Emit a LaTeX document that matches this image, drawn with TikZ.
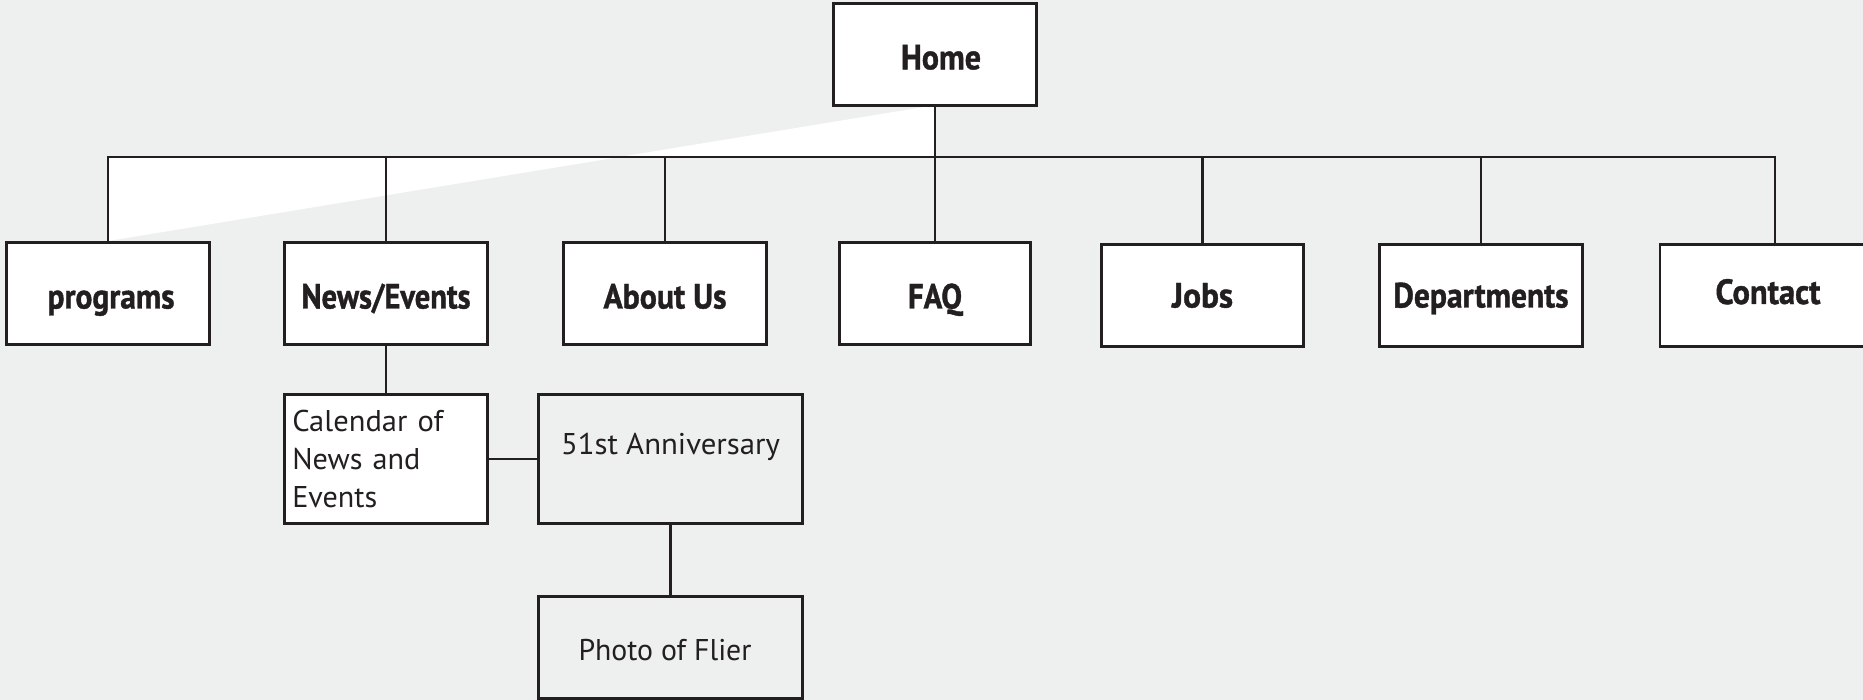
\documentclass[tikz,border=0pt]{standalone}
\usepackage{fontspec}
\setmainfont{PT Sans}
\newfontfamily\heavyfont{PT Sans}[BoldFeatures={FakeBold=1.2}]
\definecolor{bgc}{RGB}{238,240,239}
\definecolor{ink}{RGB}{35,31,32}
\newcommand\fitw[2]{\resizebox{#1}{\height}{#2}}
\tikzset{
  conn/.style={draw=ink, line width=2.7pt},
  menubox/.style={draw=ink, line width=2.7pt, fill=white, inner sep=0pt,
    minimum width=203.4pt, minimum height=102.4pt, text=ink,
    font=\heavyfont\bfseries\fontsize{35}{40}\selectfont, text height=#1, text depth=0pt},
  menubox/.default=30pt,
  subbox/.style={draw=ink, line width=2.7pt, inner sep=0pt, text=ink,
    font=\fontsize{30}{38}\selectfont}
}
\begin{document}
\begin{tikzpicture}[x=1pt,y=-1pt]
\useasboundingbox (0,0) rectangle (1863,700);
\clip (0,0) rectangle (1863,700);
\fill[bgc] (0,0) rectangle (1863,700);
% white wedge
\fill[white] (930,106) -- (935,106) -- (935,157) -- (108,157) -- (108,241) -- cycle;

% nodes
\node[menubox=29.6pt] (home) at (935,54.5) {\hspace*{12pt}\fitw{80pt}{Home}};
\node[menubox] (prog) at (108,293.5) {\hspace*{6pt}\fitw{127pt}{programs}};
\node[menubox] (news) at (386,293.5) {\fitw{169pt}{News/Events}};
\node[menubox] (about) at (665,293.5) {\fitw{123pt}{About Us}};
\node[menubox, minimum width=191.4pt] (faq) at (935,293.5) {\fitw{54pt}{FAQ}};
\node[menubox=24pt, minimum width=202pt] (jobs) at (1202.5,295.5) {\fitw{61pt}{Jobs}};
\node[menubox=24pt] (dept) at (1481,295.5) {\fitw{175pt}{Departments}};
\node[menubox=17pt, minimum width=206pt] (contact) at (1763,295.5) {\hspace*{10pt}\fitw{105pt}{Contact}};

\node[subbox, fill=white, minimum width=203.4pt, minimum height=129.4pt,
  text width=187.4pt, inner xsep=8pt, align=left] (cal) at (386,459)
  {\fitw{151pt}{Calendar of}\\\fitw{128pt}{News and}\\\fitw{85pt}{Events}};
\node[subbox, minimum width=263.7pt, minimum height=129.4pt,
  text height=22pt, text depth=32pt] (anniv) at (670.5,459) {\fitw{219pt}{51st Anniversary}};
\node[subbox, minimum width=263.7pt, minimum height=101.6pt,
  text height=25pt, text depth=0pt] (photo) at (670.5,647.5) {\fitw{173pt}{Photo of Flier}\hspace*{11pt}};

% connectors
\coordinate (bus) at (935,157);
\draw[conn] (home) -- (bus);
\draw[conn] (prog) |- (bus);
\draw[conn] (bus) -| ([xshift=12pt]contact.north);
\draw[conn] (bus -| news) -- (news);
\draw[conn] (bus -| about) -- (about);
\draw[conn] (bus -| faq) -- (faq);
\draw[conn] (bus -| jobs) -- (jobs);
\draw[conn] (bus -| dept) -- (dept);
\draw[conn] (news) -- (cal);
\draw[conn] (cal) -- (anniv);
\draw[conn] (anniv) -- (photo);
\end{tikzpicture}
\end{document}
